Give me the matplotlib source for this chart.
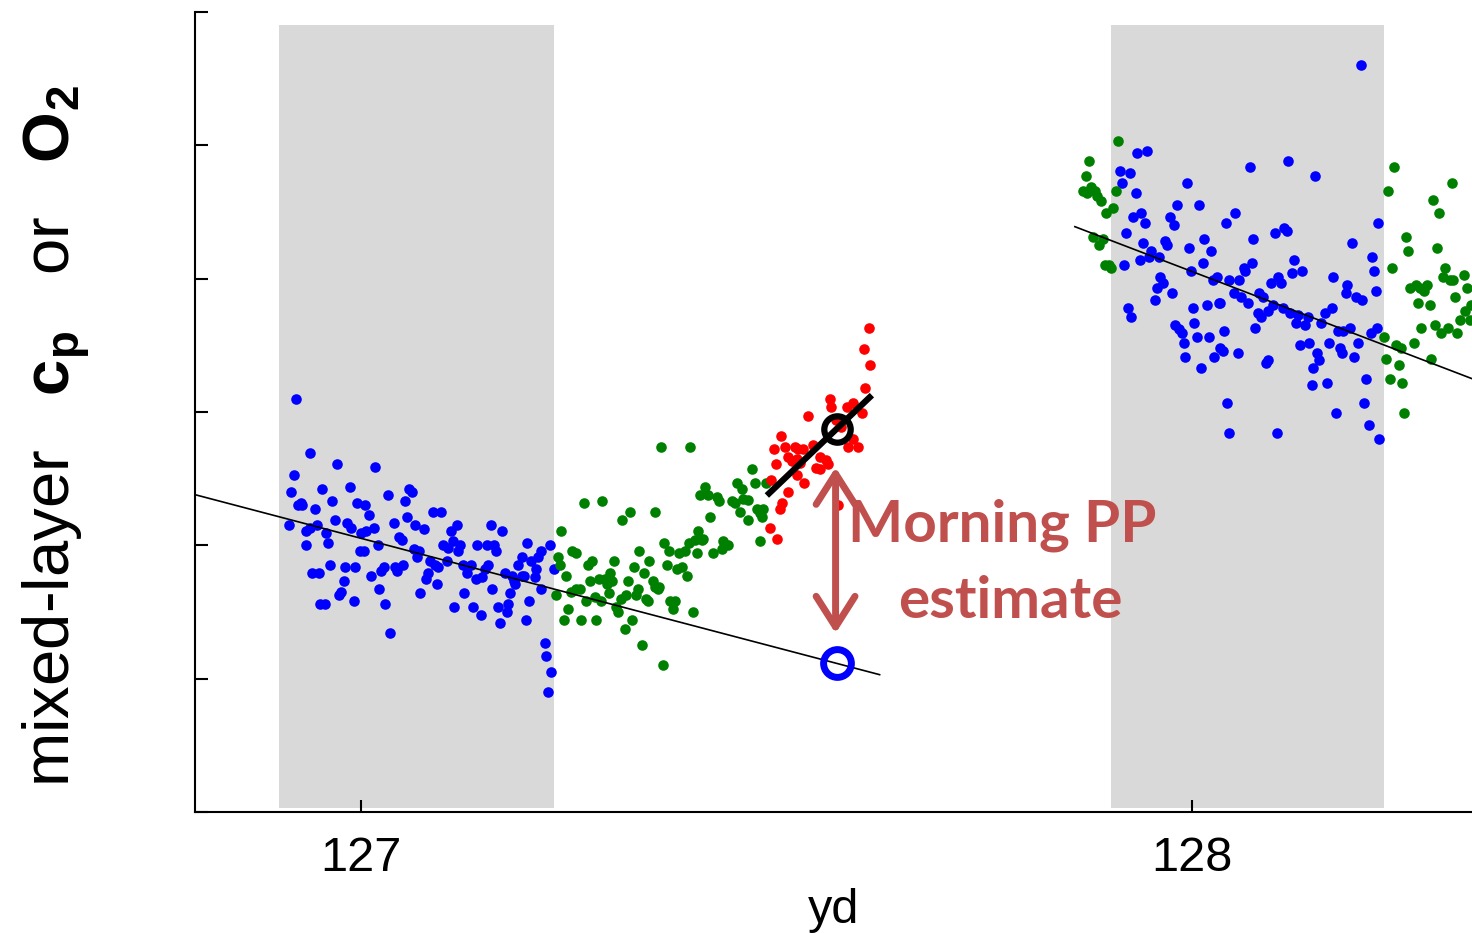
import matplotlib
matplotlib.use('Agg')
import matplotlib.pyplot as plt

plt.rcParams['font.family'] = ['Liberation Sans', 'DejaVu Sans']
plt.rcParams['mathtext.fontset'] = 'custom'
plt.rcParams['mathtext.rm'] = 'Liberation Sans'
plt.rcParams['mathtext.bf'] = 'Liberation Sans:bold'

# night-time samples, yd 127 (blue)
night1_x = [126.921, 126.939, 126.971, 127.017, 126.919, 126.916, 126.953, 126.986, 127.058, 127.061,
            127.032, 127.053, 126.927, 126.924, 126.929, 126.965, 126.944, 126.995, 127.005, 127.010,
            127.055, 126.913, 126.968, 126.947, 126.983, 126.988, 127.039, 127.065, 126.933, 126.938,
            126.958, 127.000, 127.006, 127.015, 127.045, 127.049, 126.934, 126.960, 127.020, 126.998,
            127.003, 127.063, 127.067, 126.962, 126.941, 126.949, 126.981, 126.993, 127.027, 127.024,
            127.041, 127.043, 127.050, 127.012, 126.979, 126.976, 126.973, 127.022, 127.071, 126.951,
            126.956, 126.991, 127.029, 127.035,
            127.086, 127.096, 127.076, 127.108, 127.115, 127.156, 127.169, 127.200, 127.227, 127.099,
            127.104, 127.110, 127.119, 127.117, 127.139, 127.151, 127.160, 127.162, 127.217, 127.213,
            127.193, 127.070, 127.103, 127.083, 127.089, 127.093, 127.123, 127.132, 127.127, 127.153,
            127.205, 127.189, 127.210, 127.209, 127.232, 127.081, 127.078, 127.138, 127.145, 127.149,
            127.173, 127.181, 127.193, 127.196, 127.185, 127.184, 127.091, 127.124, 127.158, 127.179,
            127.216, 127.202, 127.177, 127.175, 127.112, 127.135, 127.165, 127.144, 127.167, 127.198,
            127.221, 127.223, 127.229, 127.225]
night1_y = [3.10, 2.69, 2.61, 2.59, 2.53, 2.40, 2.42, 2.44, 2.42, 2.40,
            2.38, 2.33, 2.32, 2.30, 2.30, 2.33, 2.27, 2.32, 2.30, 2.23,
            2.21, 2.15, 2.19, 2.15, 2.17, 2.13, 2.17, 2.15, 2.11, 2.13,
            2.09, 2.09, 2.11, 2.13, 2.06, 2.04, 2.00, 2.02, 2.00, 1.96,
            1.96, 1.97, 1.91, 1.85, 1.79, 1.79, 1.84, 1.84, 1.84, 1.81,
            1.84, 1.81, 1.85, 1.77, 1.73, 1.65, 1.63, 1.67, 1.64, 1.56,
            1.56, 1.58, 1.56, 1.34,
            2.25, 2.25, 2.12, 2.11, 2.15, 2.15, 2.11, 2.02, 2.00, 2.00,
            1.98, 2.03, 2.00, 1.96, 2.00, 2.00, 2.00, 1.96, 1.96, 1.91,
            1.91, 1.96, 1.88, 1.88, 1.85, 1.84, 1.85, 1.85, 1.79, 1.85,
            1.88, 1.85, 1.82, 1.76, 1.82, 1.79, 1.75, 1.75, 1.76, 1.82,
            1.79, 1.77, 1.77, 1.77, 1.71, 1.73, 1.71, 1.64, 1.67, 1.64,
            1.67, 1.58, 1.56, 1.50, 1.54, 1.54, 1.54, 1.48, 1.42, 1.44,
            1.27, 1.17, 1.05, 0.90]

# daytime samples, yd 127 (green)
day1_x = [127.361, 127.396, 127.268, 127.290, 127.323, 127.314, 127.354, 127.408, 127.414, 127.241,
          127.254, 127.258, 127.237, 127.239, 127.273, 127.278, 127.304, 127.335, 127.347, 127.328,
          127.365, 127.370, 127.382, 127.390, 127.394, 127.402, 127.406, 127.410, 127.404, 127.368,
          127.380, 127.386, 127.392, 127.247, 127.340, 127.275, 127.286, 127.294, 127.300, 127.296,
          127.302, 127.321, 127.351, 127.354, 127.357, 127.359, 127.234, 127.252, 127.258, 127.263,
          127.298, 127.333, 127.331, 127.313, 127.319, 127.281, 127.289, 127.271, 127.343, 127.345,
          127.372, 127.378, 127.375, 127.307, 127.309, 127.249, 127.399, 127.244, 127.265, 127.283,
          127.326, 127.317, 127.338, 127.363,
          127.471, 127.418, 127.428, 127.431, 127.452, 127.458, 127.474, 127.487, 127.446, 127.450,
          127.460, 127.466, 127.456, 127.476, 127.480, 127.484, 127.420, 127.466, 127.482, 127.412,
          127.436, 127.442, 127.434, 127.424, 127.480]
day1_y = [2.74, 2.74, 2.32, 2.33, 2.25, 2.19, 2.25, 2.38, 2.44, 2.11,
          1.96, 1.94, 1.91, 1.85, 1.85, 1.88, 1.88, 1.96, 1.88, 1.84,
          2.02, 1.96, 1.94, 1.96, 2.02, 2.04, 2.11, 2.04, 1.94, 1.85,
          1.82, 1.84, 1.77, 1.77, 1.79, 1.73, 1.75, 1.75, 1.79, 1.71,
          1.73, 1.73, 1.73, 1.69, 1.67, 1.69, 1.63, 1.65, 1.67, 1.67,
          1.64, 1.67, 1.63, 1.60, 1.63, 1.61, 1.58, 1.58, 1.60, 1.58,
          1.58, 1.58, 1.52, 1.54, 1.50, 1.52, 1.50, 1.44, 1.44, 1.44,
          1.44, 1.37, 1.25, 1.10,
          2.57, 2.38, 2.36, 2.33, 2.47, 2.42, 2.47, 2.47, 2.33, 2.32,
          2.35, 2.34, 2.25, 2.27, 2.24, 2.27, 2.21, 2.19, 2.21, 2.05,
          2.03, 2.00, 1.97, 1.94, 2.03]

# morning samples used for the PP estimate (red)
morning_x = [127.611, 127.605, 127.613, 127.607, 127.564, 127.566, 127.585, 127.592, 127.603, 127.538,
             127.572, 127.578, 127.505, 127.497, 127.510, 127.522, 127.526, 127.532, 127.544, 127.592,
             127.586, 127.598, 127.514, 127.518, 127.524, 127.528, 127.499, 127.552, 127.560, 127.562,
             127.548, 127.552, 127.524, 127.493, 127.533, 127.514, 127.506, 127.504, 127.574, 127.492,
             127.501]
morning_y = [3.63, 3.47, 3.35, 3.18, 3.10, 3.04, 3.04, 3.07, 2.99, 2.97,
             2.94, 2.89, 2.82, 2.72, 2.74, 2.74, 2.72, 2.72, 2.75, 2.80,
             2.74, 2.74, 2.66, 2.63, 2.65, 2.62, 2.61, 2.66, 2.64, 2.61,
             2.58, 2.57, 2.53, 2.49, 2.47, 2.40, 2.32, 2.27, 2.30, 2.13,
             2.05]

# night-time samples, yd 128 (blue)
night2_x = [128.203, 127.934, 127.946, 127.913, 127.925, 127.916, 127.994, 127.932, 127.982, 128.008,
            127.929, 127.939, 127.943, 127.973, 127.978, 128.041, 127.920, 127.941, 127.967, 127.970,
            127.996, 128.015, 128.023, 127.951, 127.948, 127.960, 127.937, 127.918, 128.013, 127.999,
            128.030, 128.025, 128.045, 127.962, 127.965, 127.958, 127.976, 127.955, 128.032, 128.018,
            128.001, 127.923, 127.927, 128.003, 127.980, 127.984, 127.988, 127.990, 128.006, 128.020,
            128.039, 128.034, 128.037, 128.027, 127.992, 128.011, 128.042, 128.045,
            128.070, 128.116, 128.148, 128.052, 128.074, 128.100, 128.111, 128.114, 128.192, 128.224,
            128.217, 128.219, 128.123, 128.072, 128.062, 128.064, 128.120, 128.132, 128.170, 128.104,
            128.107, 128.095, 128.057, 128.187, 128.185, 128.221, 128.197, 128.205, 128.081, 128.086,
            128.050, 128.059, 128.067, 128.034, 128.097, 128.109, 128.091, 128.079, 128.083, 128.118,
            128.128, 128.140, 128.125, 128.136, 128.155, 128.160, 128.168, 128.176, 128.182, 128.190,
            128.076, 128.215, 128.223, 128.130, 128.141, 128.165, 128.200, 128.055, 128.151, 128.153,
            128.146, 128.178, 128.181, 128.195, 128.089, 128.092, 128.144, 128.163, 128.209, 128.207,
            128.173, 128.213, 128.102, 128.225]
night2_y = [5.60, 4.94, 4.96, 4.81, 4.79, 4.72, 4.72, 4.64, 4.55, 4.55,
            4.46, 4.49, 4.42, 4.46, 4.40, 4.42, 4.34, 4.27, 4.28, 4.25,
            4.23, 4.30, 4.21, 4.21, 4.16, 4.16, 4.14, 4.10, 4.12, 4.06,
            4.01, 3.99, 3.99, 4.01, 3.97, 3.93, 3.89, 3.84, 3.82, 3.80,
            3.78, 3.78, 3.71, 3.67, 3.65, 3.62, 3.59, 3.52, 3.56, 3.56,
            3.61, 3.48, 3.46, 3.41, 3.41, 3.33, 3.07, 2.84,
            4.84, 4.88, 4.77, 4.49, 4.30, 4.34, 4.38, 4.36, 4.27, 4.42,
            4.16, 4.06, 4.14, 4.12, 4.08, 4.06, 4.04, 4.06, 4.01, 4.01,
            3.97, 3.97, 3.99, 3.95, 3.89, 3.91, 3.86, 3.84, 3.89, 3.86,
            3.89, 3.86, 3.82, 3.82, 3.80, 3.78, 3.76, 3.74, 3.71, 3.74,
            3.73, 3.71, 3.67, 3.65, 3.67, 3.74, 3.78, 3.61, 3.61, 3.63,
            3.63, 3.59, 3.63, 3.50, 3.52, 3.52, 3.52, 3.44, 3.44, 3.39,
            3.33, 3.48, 3.44, 3.41, 3.37, 3.39, 3.20, 3.22, 3.25, 3.07,
            2.99, 2.90, 2.84, 2.80]

# daytime samples around yd 128 (green)
day2_x = [127.911, 127.876, 127.872, 127.869, 127.874, 127.879, 127.883, 127.886, 127.891, 127.908,
          127.905, 127.897, 127.881, 127.893, 127.888, 127.895, 127.900, 127.902,
          128.243, 128.236, 128.313, 128.290, 128.297, 128.258, 128.260, 128.295, 128.241, 128.305,
          128.302, 128.310, 128.314, 128.327, 128.331, 128.262, 128.270, 128.274, 128.279, 128.283,
          128.317, 128.272, 128.286, 128.329, 128.322, 128.334, 128.293, 128.300, 128.308, 128.319,
          128.276, 128.231, 128.246, 128.251, 128.267, 128.288, 128.234, 128.249, 128.238, 128.253,
          128.255, 128.336]
day2_y = [5.03, 4.88, 4.77, 4.66, 4.64, 4.69, 4.66, 4.62, 4.58, 4.66,
          4.53, 4.49, 4.31, 4.30, 4.25, 4.10, 4.10, 4.08,
          4.84, 4.66, 4.72, 4.59, 4.49, 4.31, 4.21, 4.23, 4.08, 4.08,
          4.01, 3.99, 3.99, 4.03, 3.93, 3.93, 3.95, 3.93, 3.91, 3.95,
          3.86, 3.82, 3.80, 3.76, 3.69, 3.69, 3.65, 3.59, 3.63, 3.59,
          3.63, 3.56, 3.50, 3.48, 3.52, 3.40, 3.40, 3.35, 3.25, 3.22,
          2.99, 3.80]

# night-time regression lines
fit1_x = [126.80, 127.624]
fit1_y = [2.38, 1.03]
fit2_x = [127.859, 128.337]
fit2_y = [4.39, 3.25]
# morning regression line and the two estimate points
morning_fit_x = [127.491, 127.612]
morning_fit_y = [2.39, 3.11]
est_x = 127.573
est_morning_y = 2.87
est_night_y = 1.12

night_spans = [(126.901, 127.232), (127.903, 128.231)]

fig = plt.figure(figsize=(14.72, 9.33), dpi=100)
ax = fig.add_axes([195 / 1472, 121 / 933, 1277 / 1472, 800 / 933])

for a, b in night_spans:
    ax.axvspan(a, b, ymin=0.005, ymax=0.984, color='#D9D9D9', lw=0, zorder=0)

dot = 58
ax.scatter(night1_x, night1_y, s=dot, c='#0000FF', lw=0, zorder=2)
ax.scatter(day1_x, day1_y, s=dot, c='#008000', lw=0, zorder=2)
ax.scatter(morning_x, morning_y, s=dot, c='#FF0000', lw=0, zorder=2)
ax.scatter(night2_x, night2_y, s=dot, c='#0000FF', lw=0, zorder=2)
ax.scatter(day2_x, day2_y, s=dot, c='#008000', lw=0, zorder=2)

ax.plot(fit1_x, fit1_y, color='black', lw=1.2, zorder=3)
ax.plot(fit2_x, fit2_y, color='black', lw=1.2, zorder=3)
ax.plot(morning_fit_x, morning_fit_y, color='black', lw=4.5, zorder=4)
ax.plot(est_x, est_morning_y, 'o', ms=19, mfc='none', mec='black', mew=4.5, zorder=5)
ax.plot(est_x, est_night_y, 'o', ms=20, mfc='none', mec='#0000FF', mew=5, zorder=5)

pp_col = '#C0504D'
ax.annotate('', xy=(127.571, 1.34), xytext=(127.571, 2.585),
            arrowprops=dict(arrowstyle='<->,head_length=1.1,head_width=0.7',
                            color=pp_col, lw=5, mutation_scale=20,
                            shrinkA=0, shrinkB=0), zorder=4)
ax.text(127.772, 2.025, 'Morning PP', color=pp_col, fontsize=42, fontweight='bold',
        family=['Lato', 'DejaVu Sans'], ha='center', va='baseline', zorder=6)
ax.text(127.781, 1.455, 'estimate', color=pp_col, fontsize=42, fontweight='bold',
        family=['Lato', 'DejaVu Sans'], ha='center', va='baseline', zorder=6)

ax.set_xlim(126.8, 128.337)
ax.set_ylim(0, 6)
ax.set_xticks([127, 128])
ax.set_xticklabels(['127', '128'])
ax.set_yticks(range(7))
ax.set_yticklabels([])
ax.tick_params(direction='in', length=9, width=1.5, labelsize=35, pad=17)
for side in ['top', 'right']:
    ax.spines[side].set_visible(False)
for side in ['left', 'bottom']:
    ax.spines[side].set_linewidth(1.5)

ax.set_xlabel('yd', fontsize=35)
ax.xaxis.set_label_coords(0.5, -0.095)
ax.set_ylabel(r'mixed-layer   $\mathbf{c_p}$   or   $\mathbf{O_2}$', fontsize=47)
ax.yaxis.set_label_coords(-0.08, 0.47)

fig.savefig('out.png', dpi=100)
